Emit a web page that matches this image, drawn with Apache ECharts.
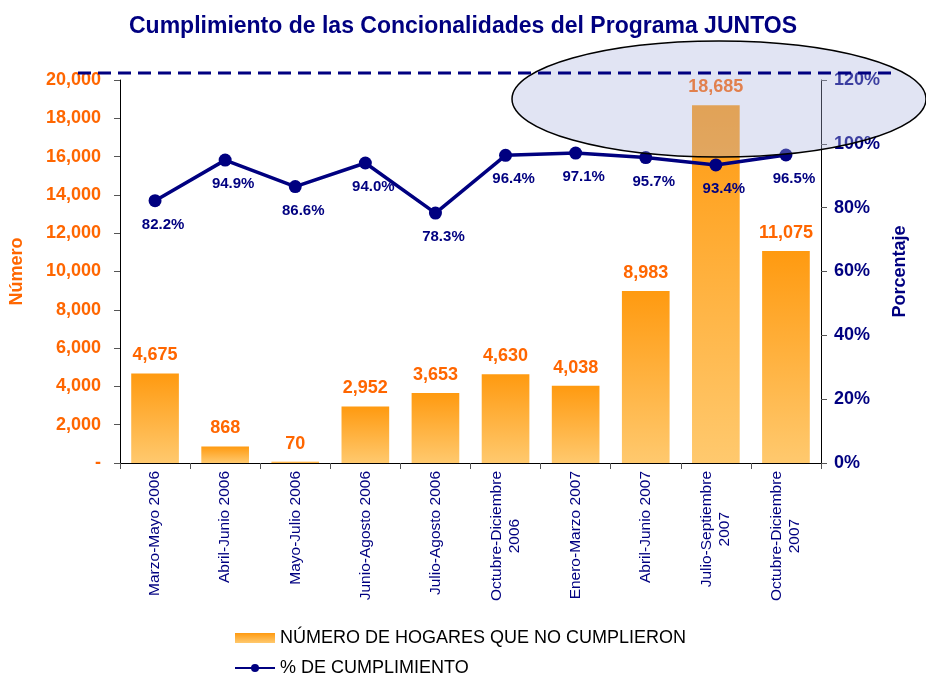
<!DOCTYPE html>
<html>
<head>
<meta charset="utf-8">
<script src="https://cdn.jsdelivr.net/npm/echarts@6/dist/echarts.min.js"></script>
<style>
  html, body { margin: 0; padding: 0; background: #fff; }
  #chart { width: 926px; height: 679px; }
</style>
</head>
<body>
<div id="chart"></div>
<script>
// datos del grafico
const categorias = [
  'Marzo-Mayo 2006', 'Abril-Junio 2006', 'Mayo-Julio 2006', 'Junio-Agosto 2006',
  'Julio-Agosto 2006', 'Octubre-Diciembre\n2006', 'Enero-Marzo 2007', 'Abril-Junio 2007',
  'Julio-Septiembre\n2007', 'Octubre-Diciembre\n2007'
]
const hogares = [4675, 868, 70, 2952, 3653, 4630, 4038, 8983, 18685, 11075]
const cumplimiento = [82.2, 94.9, 86.6, 94.0, 78.3, 96.4, 97.1, 95.7, 93.4, 96.5]

const FONT = 'Liberation Sans, Arial, sans-serif'
const NAVY = '#000080'
const ORANGE = '#FF6600'

const gradBar = new echarts.graphic.LinearGradient(0, 0, 0, 1, [
  { offset: 0, color: '#FF9A10' },
  { offset: 1, color: '#FFC96E' }
])

const myChart = echarts.init(document.getElementById('chart'))
const option = {
  textStyle: { fontFamily: FONT },
  title: {
    text: 'Cumplimiento de las Concionalidades del Programa JUNTOS',
    left: 'center',
    top: 10,
    textStyle: { color: NAVY, fontSize: 23, fontWeight: 'bold', fontFamily: FONT }
  },
  legend: {
    orient: 'vertical',
    left: 234,
    top: 629,
    height: 80,
    padding: 0,
    itemGap: 12,
    itemWidth: 40,
    itemHeight: 10,
    textStyle: { color: '#000', fontSize: 18, fontFamily: FONT },
    data: [
      { name: 'NÚMERO DE HOGARES QUE NO CUMPLIERON', icon: 'rect' },
      { name: '% DE CUMPLIMIENTO' }
    ]
  },
  grid: { left: 120, right: 105, top: 80, bottom: 216 },
  xAxis: {
    type: 'category',
    data: categorias,
    axisLine: { lineStyle: { color: '#000', width: 1 } },
    axisTick: { show: true, length: 6, lineStyle: { color: '#555' } },
    axisLabel: {
      rotate: 90,
      interval: 0,
      margin: 8,
      // centrar cada linea dentro del bloque, como en Excel
      formatter: v => v.split('\n').map(s => '{c|' + s + '}').join('\n'),
      rich: {
        c: { align: 'center', color: NAVY, fontSize: 15.5, lineHeight: 18, fontFamily: FONT }
      }
    }
  },
  yAxis: [
    {
      type: 'value',
      min: 0,
      max: 20000,
      interval: 2000,
      name: 'Número',
      nameLocation: 'middle',
      nameGap: 94,
      nameRotate: 90,
      nameTextStyle: { color: ORANGE, fontSize: 18, fontWeight: 'bold', fontFamily: FONT },
      axisLine: { show: true, lineStyle: { color: '#000' } },
      axisTick: { show: true, length: 6, lineStyle: { color: '#555' } },
      splitLine: { show: false },
      axisLabel: {
        color: ORANGE,
        fontSize: 18,
        fontWeight: 'bold',
        margin: 19,
        fontFamily: FONT,
        formatter: v => v === 0 ? '-' : v.toLocaleString('en-US')
      }
    },
    {
      type: 'value',
      min: 0,
      max: 120,
      interval: 20,
      name: 'Porcentaje',
      nameLocation: 'middle',
      nameGap: 68,
      nameRotate: 90,
      nameTextStyle: { color: NAVY, fontSize: 18, fontWeight: 'bold', fontFamily: FONT },
      axisLine: { show: true, lineStyle: { color: '#000' } },
      axisTick: { show: true, length: 6, lineStyle: { color: '#555' } },
      splitLine: { show: false },
      axisLabel: {
        color: NAVY,
        fontSize: 18,
        fontWeight: 'bold',
        margin: 13,
        fontFamily: FONT,
        formatter: '{value}%'
      }
    }
  ],
  series: [
    {
      name: 'NÚMERO DE HOGARES QUE NO CUMPLIERON',
      type: 'bar',
      data: hogares,
      barWidth: '68%',
      itemStyle: { color: gradBar },
      label: {
        show: true,
        position: 'top',
        distance: 9,
        color: ORANGE,
        fontSize: 18,
        fontWeight: 'bold',
        fontFamily: FONT,
        formatter: p => p.value.toLocaleString('en-US')
      },
      z: 2
    },
    {
      name: '% DE CUMPLIMIENTO',
      type: 'line',
      yAxisIndex: 1,
      data: cumplimiento,
      symbol: 'circle',
      symbolSize: 13,
      lineStyle: { color: NAVY, width: 3.5 },
      itemStyle: { color: NAVY },
      label: {
        show: true,
        position: 'bottom',
        distance: 10,
        offset: [8, 0],
        color: NAVY,
        fontSize: 15,
        fontWeight: 'bold',
        fontFamily: FONT,
        formatter: p => p.value.toFixed(1) + '%'
      },
      z: 3
    }
  ],
  graphic: [
    {
      type: 'ellipse',
      shape: { cx: 719, cy: 99, rx: 207, ry: 58 },
      style: { fill: 'rgba(170,178,220,0.35)', stroke: '#000', lineWidth: 1.5 },
      z: 10
    },
    {
      type: 'line',
      shape: { x1: 78, y1: 73, x2: 892, y2: 73 },
      style: { stroke: NAVY, lineWidth: 3, lineDash: [13, 7] },
      z: 11
    }
  ]
}
myChart.setOption(option)
</script>
</body>
</html>
